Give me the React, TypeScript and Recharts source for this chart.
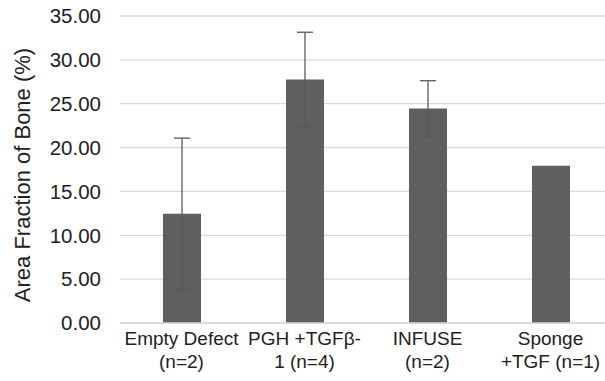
import { Bar, BarChart, CartesianGrid, ErrorBar, XAxis, YAxis } from 'recharts'

const categories = ['Empty Defect\n(n=2)', 'PGH +TGFβ-\n1 (n=4)', 'INFUSE\n(n=2)', 'Sponge\n+TGF (n=1)']
const means = [12.45, 27.75, 24.45, 17.92]
const errors = [8.63, 5.4, 3.17, null]
const yTicks = [0, 5, 10, 15, 20, 25, 30, 35]

const data = categories.map((name, i) => ({ name, value: means[i], err: errors[i] }))

const FONT = '"Liberation Sans", Arial, sans-serif'

function CategoryTick({ x, y, payload }: any) {
  const lines = String(payload.value).split('\n')
  return (
    <text x={x} y={y} textAnchor="middle" fill="#222" fontSize={19} fontFamily={FONT}>
      {lines.map((line, i) => (
        <tspan key={i} x={x} dy={i === 0 ? 14 : 23}>
          {line}
        </tspan>
      ))}
    </text>
  )
}

function AxisTitle() {
  return (
    <text
      x={30}
      y={175}
      transform="rotate(-90 30 175)"
      textAnchor="middle"
      fill="#222"
      fontSize={22}
      fontFamily={FONT}
    >
      Area Fraction of Bone (%)
    </text>
  )
}

export default function App() {
  return (
    <div style={{ position: 'absolute', left: 0, top: 0, width: 605, height: 381, overflow: 'hidden', background: '#fff' }}>
      <BarChart width={612} height={381} data={data} margin={{ top: 16, right: 0, left: 0, bottom: 8 }}>
        <CartesianGrid vertical={false} stroke="#d9d9d9" strokeWidth={1.3} />
        <XAxis
          dataKey="name"
          interval={0}
          height={50}
          tickLine={false}
          axisLine={{ stroke: '#d9d9d9', strokeWidth: 1.3 }}
          tick={<CategoryTick />}
        />
        <YAxis
          domain={[0, 35]}
          ticks={yTicks}
          width={120}
          axisLine={false}
          tickLine={false}
          tickSize={0}
          tickMargin={19}
          tickFormatter={(v: number) => v.toFixed(2)}
          tick={{ fill: '#222', fontSize: 20.5, fontFamily: FONT }}
          label={<AxisTitle />}
        />
        <Bar dataKey="value" fill="#5f5f5f" barSize={38} isAnimationActive={false}>
          <ErrorBar dataKey="err" width={8} stroke="#595959" strokeWidth={1.3} isAnimationActive={false} />
        </Bar>
      </BarChart>
    </div>
  )
}
